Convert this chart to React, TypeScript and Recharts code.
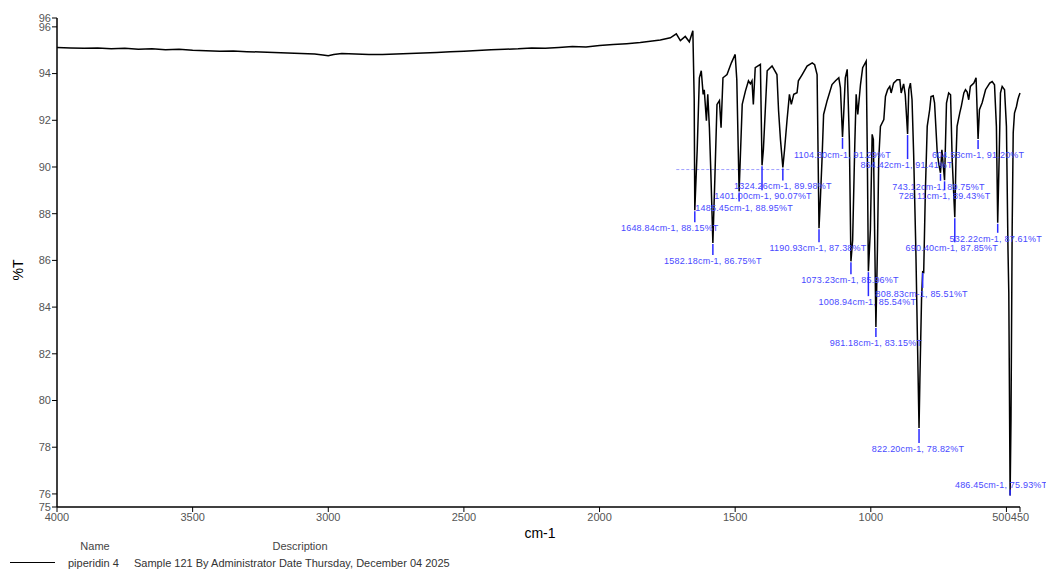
import React from 'react';
import { ComposedChart, Line, Scatter, XAxis, YAxis, ReferenceLine } from 'recharts';

// spectrum trace (cm-1 / %T)
const wavenumbers = [
  4000, 3950, 3900, 3850, 3800, 3750, 3700, 3650, 3600, 3550, 3500, 3450, 3400, 3350, 3300, 3250,
  3200, 3150, 3100, 3050, 3020, 3000, 2980, 2950, 2900, 2850, 2800, 2750, 2700, 2650, 2600, 2550,
  2500, 2450, 2400, 2350, 2300, 2250, 2200, 2150, 2100, 2050, 2000, 1950, 1900, 1850, 1776, 1739,
  1717, 1702, 1684, 1669, 1656, 1651, 1648.84, 1640, 1632, 1625, 1618, 1614, 1606, 1601, 1595, 1590,
  1582.18, 1575, 1567, 1558, 1552, 1545, 1530, 1514, 1500, 1494, 1485.45, 1474, 1462, 1451, 1444, 1438,
  1433, 1426, 1407, 1401, 1396, 1382, 1364, 1346, 1340, 1333, 1324.26, 1318, 1309, 1300, 1293, 1284,
  1272, 1267, 1253, 1235, 1216, 1207, 1198, 1190.93, 1186, 1180, 1174, 1161, 1143, 1130, 1118, 1112,
  1104.3, 1100, 1094, 1087, 1084, 1079, 1073.23, 1067, 1059, 1054, 1048, 1038, 1030, 1017, 1013, 1008.94,
  1001.5, 995, 990.5, 981.18, 975.6, 970.8, 964.5, 952, 946, 938, 930, 925, 916, 903, 893, 888,
  879, 873, 864.42, 860, 854, 848, 842, 834, 822.2, 819, 813, 808.83, 805, 799, 792, 783,
  778, 770, 765, 755, 749, 743.12, 738, 728.11, 721, 713, 706, 700, 690.4, 686, 682, 672,
  666, 657, 651, 645, 639, 633, 620, 612, 604.53, 599.5, 589.5, 577, 561.5, 552.6, 544, 537,
  532.22, 527, 522, 515.7, 507, 500, 494.3, 491.3, 486.45, 483.2, 478.8, 475, 470.3, 463, 458, 454.5,
  450,
];

const transmittance = [
  95.12, 95.10, 95.08, 95.10, 95.06, 95.08, 95.04, 95.06, 95.02, 95.04, 95.00, 94.98, 94.96, 94.97, 94.94, 94.92,
  94.90, 94.88, 94.86, 94.84, 94.80, 94.76, 94.82, 94.86, 94.84, 94.82, 94.82, 94.84, 94.86, 94.88, 94.90, 94.93,
  94.96, 94.99, 95.02, 95.04, 95.06, 95.10, 95.08, 95.12, 95.16, 95.14, 95.20, 95.24, 95.28, 95.33, 95.44, 95.53,
  95.70, 95.41, 95.59, 95.36, 95.83, 92.88, 88.15, 90.74, 93.82, 94.12, 93.11, 93.31, 91.98, 93.11, 91.68, 89.89,
  86.75, 89.46, 92.68, 92.84, 91.68, 93.82, 93.96, 94.46, 94.82, 93.74, 88.95, 92.68, 93.26, 93.69, 93.56, 93.69,
  92.68, 94.25, 94.39, 90.07, 90.74, 94.12, 94.33, 93.96, 92.41, 91.17, 89.98, 90.74, 91.98, 93.11, 92.68, 93.11,
  93.18, 93.69, 93.96, 94.32, 94.46, 94.38, 93.96, 87.38, 88.6, 90.27, 92.25, 92.84, 93.53, 93.69, 93.82, 93.39,
  91.29, 92.25, 93.82, 94.18, 93.11, 91.13, 85.96, 86.85, 90.97, 93.11, 92.25, 93.53, 94.25, 94.53, 90.74, 85.54,
  87.32, 91.40, 91.17, 83.15, 86.47, 90.32, 91.74, 92.03, 93.02, 93.31, 93.45, 93.17, 93.59, 93.74, 93.74, 93.17,
  93.56, 93.09, 91.41, 93.31, 93.59, 92.88, 90.53, 86.47, 78.82, 80.9, 84.33, 85.51, 85.49, 88.91, 91.74, 92.45,
  93.02, 93.05, 92.75, 90.6, 90.1, 89.75, 90.74, 89.43, 92.74, 93.17, 93.09, 90.32, 87.85, 90.32, 91.74, 92.32,
  92.62, 93.17, 93.31, 93.22, 92.88, 93.45, 93.59, 93.82, 91.20, 92.45, 92.75, 93.31, 93.59, 93.66, 93.52, 91.74,
  87.61, 90.32, 93.17, 93.45, 93.31, 91.74, 86.47, 84.63, 75.93, 79.2, 87.47, 91.47, 92.31, 92.59, 92.88, 93.02,
  93.17,
];

// picked peaks
const peakWavenumbers = [
  1648.84, 1582.18, 1485.45, 1401.0, 1324.26, 1190.93, 1104.3, 1073.23, 1008.94, 981.18,
  864.42, 822.2, 808.83, 743.12, 728.11, 690.4, 604.53, 532.22, 486.45,
];
const peakTransmittance = [
  88.15, 86.75, 88.95, 90.07, 89.98, 87.38, 91.29, 85.96, 85.54, 83.15,
  91.41, 78.82, 85.51, 89.75, 89.43, 87.85, 91.2, 87.61, 75.93,
];

// where each peak label sits, in px from the peak
const labelDx = [-25, 0, 5, 1, 0, -1, 0, -1, -1, 0, -1, -1, -1, -2, 0, -3, 0, -2, -9];
const labelDy = [18, 18, 16, 31, 19, 20, 18, 19, 31, 16, 31, 21, 22, 14, 16, 31, 16, 16, -11];

const xTicks = [4000, 3500, 3000, 2500, 2000, 1500, 1000, 500, 450];
const yTicks = [75.44, 76, 78, 80, 82, 84, 86, 88, 90, 92, 94, 96, 96.38];

const spectrum = wavenumbers.map((wn, i) => ({ wn, t: transmittance[i] }));
const peaks = peakWavenumbers.map((wn, i) => ({
  wn,
  t: peakTransmittance[i],
  label: `${wn.toFixed(2)}cm-1, ${peakTransmittance[i].toFixed(2)}%T`,
  dx: labelDx[i],
  dy: labelDy[i],
}));

const FONT = "'Liberation Sans', Arial, sans-serif";

const PeakMark = (props: any) => {
  const { cx, cy, payload } = props;
  if (cx == null || cy == null) return null;
  const above = payload.dy < 0;
  const y1 = above ? cy - 6 : cy + 1;
  const y2 = above ? cy : cy + payload.dy - 6;
  return (
    <g>
      <line x1={cx} x2={cx} y1={y1} y2={y2} stroke="#2a2aff" strokeWidth={1.5} />
      <text
        x={cx + payload.dx}
        y={cy + payload.dy}
        textAnchor="middle"
        dominantBaseline="central"
        fontSize={9}
        letterSpacing={0.2}
        fill="#4848ff"
        fontFamily={FONT}
      >
        {payload.label}
      </text>
    </g>
  );
};

// 500 and 450 sit nearly on top of each other, nudge 500 left like the printout
const XTick = (props: any) => {
  const { x, y, payload } = props;
  const shift = payload.value === 500 ? -5 : 0;
  return (
    <text x={x + shift} y={y} dy="0.71em" textAnchor="middle" fontSize={11} fill="#555" fontFamily={FONT}>
      {payload.value}
    </text>
  );
};

const App: React.FC = () => {
  return (
    <div style={{ position: 'absolute', left: 0, top: 0, width: 1046, height: 569, background: '#fff', fontFamily: FONT }}>
      <ComposedChart width={1046} height={569} data={spectrum} margin={{ top: 18, right: 26, left: 17, bottom: 32 }}>
        <XAxis
          dataKey="wn"
          type="number"
          domain={[450, 4000]}
          reversed
          ticks={xTicks}
          interval={0}
          height={30}
          tickSize={5}
          tickMargin={1}
          axisLine={{ stroke: '#000', strokeWidth: 1.5 }}
          tickLine={{ stroke: '#000' }}
          tick={<XTick />}
        />
        <YAxis
          type="number"
          domain={[75.44, 96.38]}
          ticks={yTicks}
          interval={0}
          width={40}
          tickSize={5}
          tickMargin={1}
          tickFormatter={(v: number) => String(Math.round(v))}
          axisLine={{ stroke: '#000', strokeWidth: 1.5 }}
          tickLine={{ stroke: '#000' }}
          tick={{ fill: '#555', fontSize: 11 }}
        />
        <ReferenceLine
          segment={[{ x: 1717, y: 89.89 }, { x: 1296, y: 89.89 }]}
          stroke="#a0a0ff"
          strokeDasharray="3 2"
          strokeWidth={1}
        />
        <Line
          dataKey="t"
          type="linear"
          stroke="#000"
          strokeWidth={1.5}
          dot={false}
          isAnimationActive={false}
        />
        <Scatter data={peaks} dataKey="t" shape={<PeakMark />} isAnimationActive={false} />
      </ComposedChart>

      <div style={{ position: 'absolute', left: 18, top: 270, transform: 'translate(-50%, -50%) rotate(-90deg)', fontSize: 14 }}>%T</div>
      <div style={{ position: 'absolute', left: 540, top: 533, transform: 'translate(-50%, -50%)', fontSize: 14 }}>cm-1</div>

      <div style={{ position: 'absolute', left: 95, top: 546, transform: 'translate(-50%, -50%)', fontSize: 11, color: '#444' }}>Name</div>
      <div style={{ position: 'absolute', left: 300, top: 546, transform: 'translate(-50%, -50%)', fontSize: 11, color: '#444' }}>Description</div>
      <div style={{ position: 'absolute', left: 10, top: 562, width: 45, height: 0, borderTop: '1.5px solid #000' }} />
      <div style={{ position: 'absolute', left: 68, top: 563, transform: 'translateY(-50%)', fontSize: 11, color: '#333', whiteSpace: 'nowrap' }}>piperidin 4</div>
      <div style={{ position: 'absolute', left: 134, top: 563, transform: 'translateY(-50%)', fontSize: 11, color: '#333', whiteSpace: 'nowrap' }}>
        Sample 121 By Administrator Date Thursday, December 04 2025
      </div>
    </div>
  );
};

export default App;
